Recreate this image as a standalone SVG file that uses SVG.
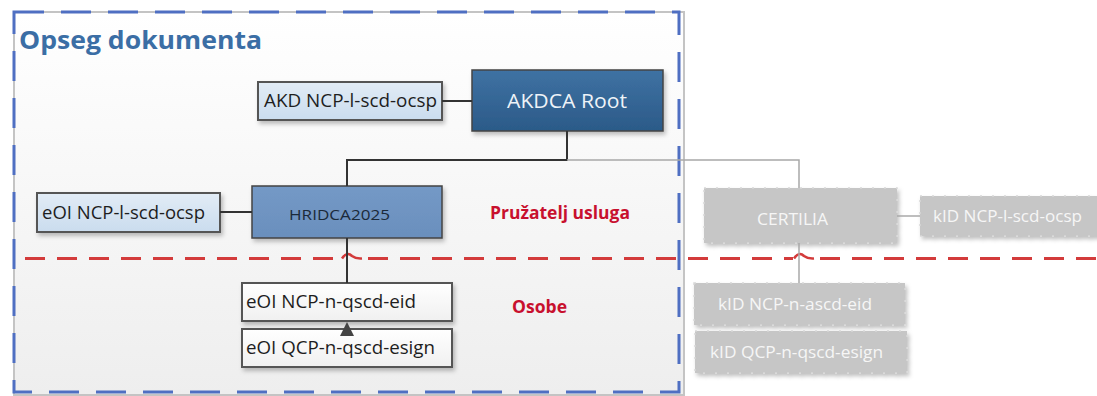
<svg xmlns="http://www.w3.org/2000/svg" width="1097" height="396" viewBox="0 0 1097 396">
<style>
.t{font-family:"Open Sans","Liberation Sans",sans-serif;}
.lbl{font-size:18px;fill:#1e1e1e;}
.gl{font-size:17px;fill:#f6f6f6;}
.red{font-size:17px;font-weight:bold;fill:#c8102e;}
.lb{fill:url(#gLight);stroke:#555;stroke-width:2;}
.wb{fill:url(#gWhite);stroke:#555;stroke-width:2;}
.gb{fill:#c6c6c6;stroke:#d8d8d8;stroke-width:1.5;stroke-dasharray:2 10;}
.con{fill:none;stroke:#333;stroke-width:2;}
.gcon{fill:none;stroke:#a8a8a8;stroke-width:1.5;}
</style>
<defs>
<linearGradient id="gBg" x1="0" y1="0" x2="0" y2="1"><stop offset="0" stop-color="#ffffff"/><stop offset="1" stop-color="#eeeeee"/></linearGradient>
<linearGradient id="gRoot" x1="0" y1="0" x2="0" y2="1"><stop offset="0" stop-color="#3f72a3"/><stop offset="1" stop-color="#2b5a88"/></linearGradient>
<linearGradient id="gMid" x1="0" y1="0" x2="0" y2="1"><stop offset="0" stop-color="#7499c6"/><stop offset="1" stop-color="#6a8fbd"/></linearGradient>
<linearGradient id="gLight" x1="0" y1="0" x2="0" y2="1"><stop offset="0" stop-color="#e2ecf6"/><stop offset="1" stop-color="#cadcee"/></linearGradient>
<linearGradient id="gWhite" x1="0" y1="0" x2="0" y2="1"><stop offset="0" stop-color="#ffffff"/><stop offset="1" stop-color="#f0f0f0"/></linearGradient>
<filter id="sh" x="-10%" y="-20%" width="130%" height="150%"><feDropShadow dx="2" dy="3" stdDeviation="2" flood-color="#000" flood-opacity="0.25"/></filter>
<marker id="tri" viewBox="0 0 10 10" refX="10" refY="5" markerWidth="14" markerHeight="18" markerUnits="userSpaceOnUse" orient="auto"><path d="M0 0 L10 5 L0 10 Z" fill="#444"/></marker>
</defs>

<g id="scope">
<rect x="14" y="12" width="670" height="383" fill="url(#gBg)" stroke="#c4c4c4" stroke-width="2"/>
<rect x="14" y="12" width="665" height="380" fill="none" stroke="#4f6fc2" stroke-width="3" stroke-dasharray="30 17"/>
<text class="t" x="19" y="49" font-size="25" font-weight="bold" fill="#3b6ea5" textLength="243" lengthAdjust="spacingAndGlyphs">Opseg dokumenta</text>
</g>

<g id="separator">
<path d="M25 258.5 H342" fill="none" stroke="#d33b3b" stroke-width="3" stroke-dasharray="20 12"/>
<path d="M342 258.5 Q347 251 352 256 Q356 259 362 258.5" fill="none" stroke="#d33b3b" stroke-width="2.5"/>
<path d="M368 258.5 H793" fill="none" stroke="#d33b3b" stroke-width="3" stroke-dasharray="20 12"/>
<path d="M794 258.5 Q799 251 804 256 Q808 259 814 258.5" fill="none" stroke="#d33b3b" stroke-width="2.5"/>
<path d="M820 258.5 H1097" fill="none" stroke="#d33b3b" stroke-width="3" stroke-dasharray="20 12"/>
</g>

<g id="label-pruzatelj"><text class="t red" x="490" y="219" textLength="140" lengthAdjust="spacingAndGlyphs">Pružatelj usluga</text></g>
<g id="label-osobe"><text class="t red" x="512" y="313" textLength="55" lengthAdjust="spacingAndGlyphs">Osobe</text></g>

<g id="akd-ocsp">
<rect class="lb" x="258" y="82" width="184" height="38" filter="url(#sh)"/>
<text class="t lbl" x="264" y="107" textLength="173" lengthAdjust="spacingAndGlyphs">AKD NCP-l-scd-ocsp</text>
</g>

<g id="akdca-root">
<rect x="472" y="70" width="191" height="61" fill="url(#gRoot)" stroke="#444" stroke-width="1.5" filter="url(#sh)"/>
<text class="t" x="507" y="108" font-size="20" fill="#eef3f8" textLength="120" lengthAdjust="spacingAndGlyphs">AKDCA Root</text>
</g>

<g id="eoi-ocsp">
<rect class="lb" x="37" y="193" width="183" height="39" filter="url(#sh)"/>
<text class="t lbl" x="42" y="219" textLength="163" lengthAdjust="spacingAndGlyphs">eOI NCP-l-scd-ocsp</text>
</g>

<g id="hridca">
<rect x="252" y="186" width="190" height="52" fill="url(#gMid)" stroke="#444" stroke-width="1.5" filter="url(#sh)"/>
<text class="t" x="289" y="220" font-size="15" fill="#1b2a3a" textLength="101" lengthAdjust="spacingAndGlyphs">HRIDCA2025</text>
</g>

<g id="eoi-eid">
<rect class="wb" x="242" y="283" width="210" height="38" filter="url(#sh)"/>
<text class="t lbl" x="246" y="308" textLength="170" lengthAdjust="spacingAndGlyphs">eOI NCP-n-qscd-eid</text>
</g>

<g id="eoi-esign">
<rect class="wb" x="242" y="329" width="210" height="38" filter="url(#sh)"/>
<text class="t lbl" x="246" y="354" textLength="189" lengthAdjust="spacingAndGlyphs">eOI QCP-n-qscd-esign</text>
</g>

<g id="certilia">
<rect class="gb" x="704" y="188" width="193" height="55" filter="url(#sh)"/>
<text class="t gl" x="757" y="225" font-size="15" textLength="71" lengthAdjust="spacingAndGlyphs">CERTILIA</text>
</g>

<g id="kid-ocsp">
<rect class="gb" x="920" y="196" width="185" height="40" filter="url(#sh)"/>
<text class="t gl" x="933" y="222" textLength="149" lengthAdjust="spacingAndGlyphs">kID NCP-l-scd-ocsp</text>
</g>

<g id="kid-eid">
<rect class="gb" x="694" y="283" width="211" height="42" filter="url(#sh)"/>
<text class="t gl" x="718" y="310" textLength="154" lengthAdjust="spacingAndGlyphs">kID NCP-n-ascd-eid</text>
</g>

<g id="kid-esign">
<rect class="gb" x="695" y="331" width="212" height="42" filter="url(#sh)"/>
<text class="t gl" x="710" y="358" textLength="173" lengthAdjust="spacingAndGlyphs">kID QCP-n-qscd-esign</text>
</g>

<g id="connectors">
<path class="con" d="M442 101 H472"/>
<path class="con" d="M567 131 V160 H347 V186"/>
<path class="gcon" d="M567 160 H799 V188"/>
<path class="con" d="M220 212 H252"/>
<path class="con" d="M347 238 V283"/>
<path class="gcon" d="M920 216 H897"/>
<path class="gcon" d="M799 243 V283"/>
<path d="M347 340 V322" fill="none" stroke="none" marker-end="url(#tri)"/>
</g>
</svg>
